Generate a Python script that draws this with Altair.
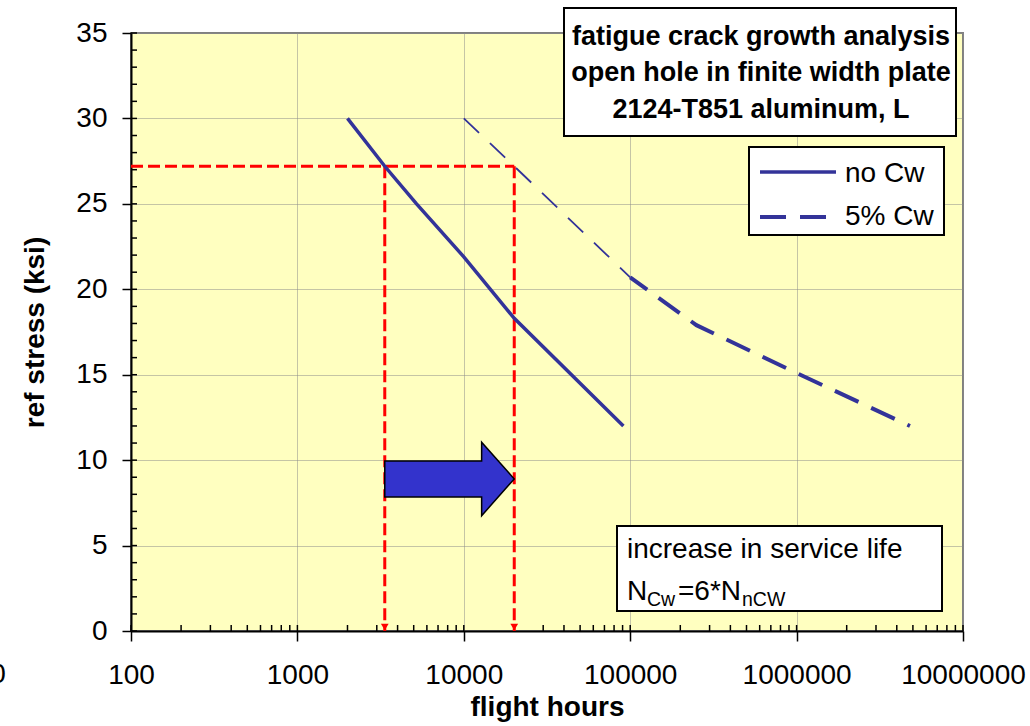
import altair as alt
import pandas as pd

# Fatigue crack growth: reference stress (ksi) vs. flight hours
no_cw_hours = [2000, 3350, 5200, 10000, 20100, 91000]
no_cw_stress = [30.0, 27.2, 25.0, 21.9, 18.3, 12.0]

# 5% cold-worked hole: extrapolated (thin) part and computed (thick) part
cw_ext_hours = [10000, 20100, 61000, 100000]
cw_ext_stress = [30.0, 27.2, 22.7, 20.7]
cw_hours = [100000, 250000, 1000000, 4800000]
cw_stress = [20.7, 17.9, 15.1, 12.0]

design_stress = 27.2
life_no_cw = 3350
life_factor = 6
life_cw = life_no_cw * life_factor

# block arrow showing the life increase
arrow_y = 8.9
shaft_half = 1.05
head_half = 2.15
head_start = 12800

decades = [100, 1000, 10000, 100000, 1000000, 10000000]
stress_ticks = [0, 5, 10, 15, 20, 25, 30, 35]
minor_x = [k * d for d in decades[:-1] for k in range(2, 10)]
minor_y = list(range(0, 36))

W, H = 832, 598
FONT = "Liberation Sans"
NAVY = "#333399"

xscale = alt.Scale(type="log", domain=[100, 10000000], nice=False)
yscale = alt.Scale(domain=[0, 35], nice=False, zero=False)

x_axis = alt.Axis(
    values=decades, format="d", title="flight hours", grid=True,
    gridColor="#8a8a8a", gridDash=[1, 1], gridWidth=1,
    domainColor="black", domainWidth=2,
    tickColor="black", tickWidth=1.5, tickSize=10,
    labelFont=FONT, labelFontSize=28, labelColor="black",
    labelBaseline="alphabetic", labelPadding=42,
    labelOverlap=False, labelFlush=False,
    titleFont=FONT, titleFontSize=28, titleFontWeight="bold", titleColor="black",
    titleBaseline="alphabetic", titleY=84,
)
y_axis = alt.Axis(
    values=stress_ticks, title="ref stress (ksi)", grid=True,
    gridColor="#8a8a8a", gridDash=[1, 1], gridWidth=1,
    domainColor="black", domainWidth=2,
    tickColor="black", tickWidth=1.5, tickSize=9,
    labelFont=FONT, labelFontSize=28, labelColor="black", labelPadding=15,
    titleFont=FONT, titleFontSize=28, titleFontWeight="bold", titleColor="black",
    titleAngle=270, titleBaseline="alphabetic", titleAlign="center",
    titleX=-88, titleY=H / 2,
)


def X(field):
    return alt.X(f"{field}:Q", scale=xscale, axis=x_axis)


def Y(field):
    return alt.Y(f"{field}:Q", scale=yscale, axis=y_axis)


one = pd.DataFrame({"k": [0]})

# curves
no_cw = alt.Chart(pd.DataFrame({"hours": no_cw_hours, "stress": no_cw_stress})).mark_line(
    color=NAVY, strokeWidth=3.5
).encode(x=X("hours"), y=Y("stress"))

cw_ext = alt.Chart(pd.DataFrame({"hours": cw_ext_hours, "stress": cw_ext_stress})).mark_line(
    color=NAVY, strokeWidth=1.8, strokeDash=[21, 15]
).encode(x=X("hours"), y=Y("stress"))

cw = alt.Chart(pd.DataFrame({"hours": cw_hours, "stress": cw_stress})).mark_line(
    color=NAVY, strokeWidth=4, strokeDash=[26, 14], strokeDashOffset=5
).encode(x=X("hours"), y=Y("stress"))

# red construction lines
guides = pd.DataFrame({
    "x": [100, life_no_cw, life_cw],
    "x2": [life_cw, life_no_cw, life_cw],
    "y": [design_stress, design_stress, design_stress],
    "y2": [design_stress, 0, 0],
})
guide_lines = alt.Chart(guides).mark_rule(color="#ff0000", strokeWidth=3, strokeDash=[12, 5]).encode(
    x=X("x"), x2="x2", y=Y("y"), y2="y2"
)
guide_heads = alt.Chart(pd.DataFrame({"x": [life_no_cw, life_cw], "y": [0, 0]})).mark_point(
    shape="triangle-down", filled=True, color="#ff0000", opacity=1, size=60, yOffset=-4
).encode(x=X("x"), y=Y("y"))

# block arrow: one closed outline, points in increasing x
arrow_df = pd.DataFrame({
    "hours": [life_no_cw, head_start, head_start + 1, life_cw],
    "lo": [arrow_y - shaft_half, arrow_y - shaft_half, arrow_y - head_half, arrow_y],
    "hi": [arrow_y + shaft_half, arrow_y + shaft_half, arrow_y + head_half, arrow_y],
})
arrow = alt.Chart(arrow_df).mark_area(
    color="#3333cc", fill="#3333cc", stroke="black", strokeWidth=1.5, opacity=1,
    interpolate="linear"
).encode(x=X("hours"), y=Y("lo"), y2="hi")

# inner tick marks on the axes
x_minor = alt.Chart(pd.DataFrame({"x": minor_x + decades})).mark_rule(color="black", strokeWidth=1.5).encode(
    x=X("x"), y=alt.value(H - 6), y2=alt.value(H)
)
y_minor = alt.Chart(pd.DataFrame({"y": minor_y})).mark_rule(color="black", strokeWidth=1.5).encode(
    y=Y("y"), x=alt.value(0), x2=alt.value(6)
)


def box(x0, y0, x1, y1):
    return alt.Chart(one).mark_rect(fill="white", stroke="black", strokeWidth=2).encode(
        x=alt.value(x0), x2=alt.value(x1), y=alt.value(y0), y2=alt.value(y1)
    )


def label(txt, x, y, size=28, weight="normal", align="left"):
    return alt.Chart(one).mark_text(
        text=txt, font=FONT, fontSize=size, fontWeight=weight, align=align,
        baseline="alphabetic", color="black"
    ).encode(x=alt.value(x), y=alt.value(y))


title_box = box(433, -25, 825, 103)
title_lines = [
    label("fatigue crack growth analysis", 630, 12, 27, "bold", "center"),
    label("open hole in finite width plate", 630, 48, 27, "bold", "center"),
    label("2124-T851 aluminum, L", 630, 85, 27, "bold", "center"),
]

legend_box = box(618, 114, 813, 202)
legend_solid = alt.Chart(one).mark_rule(color=NAVY, strokeWidth=3.5).encode(
    x=alt.value(629), x2=alt.value(705), y=alt.value(139)
)
legend_dash = alt.Chart(one).mark_rule(color=NAVY, strokeWidth=4, strokeDash=[26, 14]).encode(
    x=alt.value(629), x2=alt.value(705), y=alt.value(184)
)
legend_text = [label("no Cw", 714, 149), label("5% Cw", 714, 192)]

life_box = box(486, 493, 811, 578)
life_text = [
    label("increase in service life", 496, 525),
    label("N", 496, 567),
    label("Cw", 516, 573, 19.5),
    label(f"={life_factor}*N", 547, 567),
    label("nCW", 611, 573, 19.5),
]

stray = label("0", -133, 650, 28, "normal", "center")

chart = alt.layer(
    x_minor, y_minor,
    guide_lines, guide_heads,
    no_cw, cw_ext, cw,
    arrow,
    title_box, *title_lines,
    legend_box, legend_solid, legend_dash, *legend_text,
    life_box, *life_text,
    stray,
).properties(
    width=W, height=H,
    autosize=alt.AutoSizeParams(type="none"),
    padding={"left": 131, "top": 33, "right": 67, "bottom": 95},
    background="white",
).configure_view(
    fill="#ffffc0", stroke="#808080", strokeWidth=2
)

chart.save("out.html", embed_options={"renderer": "svg", "actions": False})
